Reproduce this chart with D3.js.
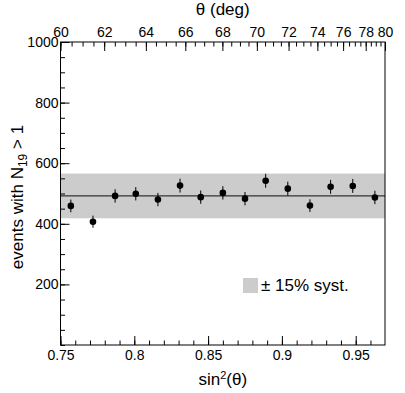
<!DOCTYPE html>
<html>
<head>
<meta charset="utf-8">
<script src="https://cdn.jsdelivr.net/npm/d3@7"></script>
<style>
  html, body { margin: 0; padding: 0; background: #fff; }
  svg { display: block; font-family: "Liberation Sans", Arial, Helvetica, sans-serif; }
</style>
</head>
<body>
<svg id="chart" width="405" height="393"></svg>
<script>
// ---- data ----
const sin2Centers = [0.757, 0.772, 0.787, 0.801, 0.816, 0.831, 0.845, 0.860, 0.875, 0.889, 0.904, 0.919, 0.933, 0.948, 0.963];
const events      = [459, 407, 492, 499, 480, 526, 488, 502, 483, 542, 516, 460, 522, 525, 487];
const errors      = [21, 20, 22, 22, 22, 23, 22, 22, 22, 23, 23, 21, 23, 23, 22];
const meanValue = 492;
const systFraction = 0.15;
const xTicksMajor = [0.75, 0.8, 0.85, 0.9, 0.95];
const yTicksMajor = [200, 400, 600, 800, 1000];
const thetaTicksMajor = [60, 62, 64, 66, 68, 70, 72, 74, 76, 78, 80];
const legendLabel = "± 15% syst.";

// ---- layout ----
const svg = d3.select("#chart");
const W = 405, H = 393;
const m = { left: 60.5, right: 20, top: 42, bottom: 48 };
const sin2 = deg => Math.pow(Math.sin(deg * Math.PI / 180), 2);

const x = d3.scaleLinear().domain([0.75, sin2(80)]).range([m.left, W - m.right]);
const y = d3.scaleLinear().domain([0, 1000]).range([H - m.bottom, m.top]);

const fmtX = d => String(+d.toFixed(2));

// band
svg.append("rect")
  .attr("x", x.range()[0]).attr("width", x.range()[1] - x.range()[0])
  .attr("y", y(meanValue * (1 + systFraction)))
  .attr("height", y(meanValue * (1 - systFraction)) - y(meanValue * (1 + systFraction)))
  .attr("fill", "#cccccc");

// mean line
svg.append("line")
  .attr("x1", x.range()[0]).attr("x2", x.range()[1])
  .attr("y1", y(meanValue)).attr("y2", y(meanValue))
  .attr("stroke", "#333").attr("stroke-width", 1.2);

// minor ticks
const xMinor = d3.range(0.75, 0.9699, 0.01);
const yMinor = d3.range(0, 1001, 50);
const thMinor = d3.range(60, 80.01, 0.5).map(sin2);

function styleAxis(g) {
  g.select(".domain").remove();
  g.selectAll("line").attr("stroke", "#000").attr("stroke-width", 1);
  g.selectAll("text").attr("fill", "#000").attr("font-size", 14);
}

// bottom
svg.append("g").attr("transform", `translate(0,${y.range()[0]})`)
  .call(d3.axisBottom(x).tickValues(xMinor).tickSize(-4.5).tickFormat(""))
  .call(styleAxis);
svg.append("g").attr("transform", `translate(0,${y.range()[0]})`)
  .call(d3.axisBottom(x).tickValues(xTicksMajor).tickSize(-9).tickPadding(5).tickFormat(fmtX))
  .call(styleAxis);

// left
svg.append("g").attr("transform", `translate(${x.range()[0]},0)`)
  .call(d3.axisLeft(y).tickValues(yMinor).tickSize(-4.5).tickFormat(""))
  .call(styleAxis);
svg.append("g").attr("transform", `translate(${x.range()[0]},0)`)
  .call(d3.axisLeft(y).tickValues(yTicksMajor).tickSize(-9).tickPadding(2).tickFormat(d3.format("d")))
  .call(styleAxis);

// top (theta)
svg.append("g").attr("transform", `translate(0,${y.range()[1]})`)
  .call(d3.axisTop(x).tickValues(thMinor).tickSize(-4.5).tickFormat(""))
  .call(styleAxis);
svg.append("g").attr("transform", `translate(0,${y.range()[1]})`)
  .call(d3.axisTop(x).tickValues(thetaTicksMajor.map(sin2)).tickSize(-9).tickPadding(5)
    .tickFormat((d, i) => thetaTicksMajor[i]))
  .call(styleAxis);

// frame
svg.append("rect")
  .attr("x", x.range()[0]).attr("y", y.range()[1])
  .attr("width", x.range()[1] - x.range()[0])
  .attr("height", y.range()[0] - y.range()[1])
  .attr("fill", "none").attr("stroke", "#000").attr("stroke-width", 1);

// error bars
const pts = sin2Centers.map((s, i) => ({ s, v: events[i], e: errors[i] }));
svg.append("g").selectAll("line").data(pts).join("line")
  .attr("x1", d => x(d.s)).attr("x2", d => x(d.s))
  .attr("y1", d => y(d.v - d.e)).attr("y2", d => y(d.v + d.e))
  .attr("stroke", "#000").attr("stroke-width", 1);
svg.append("g").selectAll("circle").data(pts).join("circle")
  .attr("cx", d => x(d.s)).attr("cy", d => y(d.v)).attr("r", 3.3)
  .attr("fill", "#000");

// titles
const cx = (x.range()[0] + x.range()[1]) / 2;
svg.append("text").attr("x", cx).attr("y", 15).attr("text-anchor", "middle")
  .attr("font-size", 17).text("θ (deg)");

const xt = svg.append("text").attr("x", cx).attr("y", 385).attr("text-anchor", "middle")
  .attr("font-size", 17);
xt.append("tspan").text("sin");
xt.append("tspan").attr("dy", -6).attr("font-size", 11).text("2");
xt.append("tspan").attr("dy", 6).text("(θ)");

const yt = svg.append("text").attr("transform", `translate(23,197) rotate(-90)`)
  .attr("text-anchor", "middle").attr("font-size", 17);
yt.append("tspan").text("events with N");
yt.append("tspan").attr("dy", 4).attr("font-size", 12).text("19");
yt.append("tspan").attr("dy", -4).text(" > 1");

// legend
svg.append("rect").attr("x", 243).attr("y", 278).attr("width", 15).attr("height", 15)
  .attr("fill", "#cccccc");
svg.append("text").attr("x", 261).attr("y", 291).attr("font-size", 17).text(legendLabel);
</script>
</body>
</html>
